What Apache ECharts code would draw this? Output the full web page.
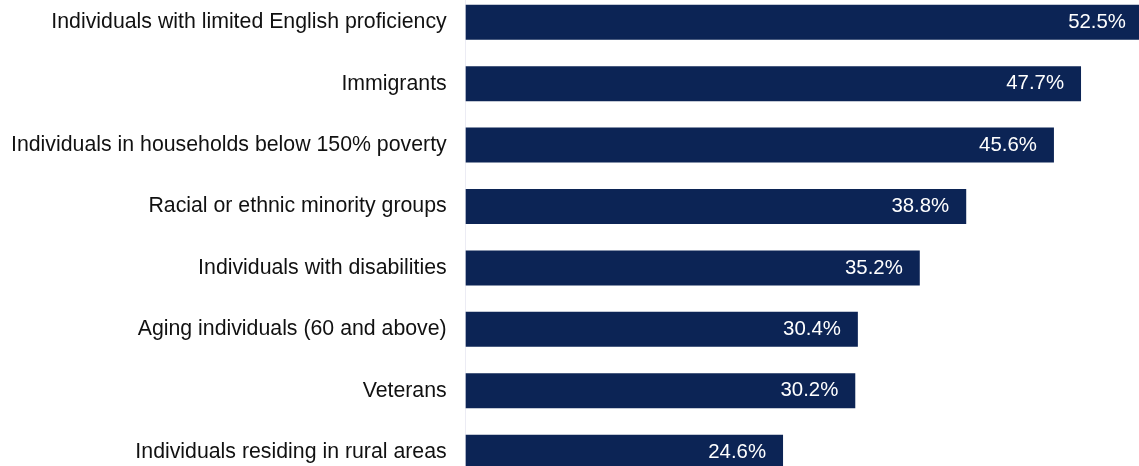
<!DOCTYPE html>
<html>
<head>
<meta charset="utf-8">
<script src="https://cdn.jsdelivr.net/npm/echarts@6/dist/echarts.min.js"></script>
<style>
html,body{margin:0;padding:0;background:#fff;}
#chart{width:1139px;height:466px;}
</style>
</head>
<body>
<div id="chart"></div>
<script>
var categories = [
  "Individuals with limited English proficiency",
  "Immigrants",
  "Individuals in households below 150% poverty",
  "Racial or ethnic minority groups",
  "Individuals with disabilities",
  "Aging individuals (60 and above)",
  "Veterans",
  "Individuals residing in rural areas"
];
var values = [52.5, 47.7, 45.6, 38.8, 35.2, 30.4, 30.2, 24.6];

var chart = echarts.init(document.getElementById('chart'), null, {renderer: 'canvas'});
var xMax = 55;
var pxPerUnit = 12.9;
var gridLeft = 465.7;
var gridWidth = xMax * pxPerUnit;
chart.setOption({
  animation: false,
  grid: {
    left: gridLeft,
    width: gridWidth,
    top: -8.5,
    height: 491.4,
    containLabel: false,
    outerBoundsMode: 'none'
  },
  xAxis: {
    type: 'value',
    min: 0,
    max: xMax,
    show: false
  },
  yAxis: {
    type: 'category',
    inverse: true,
    data: categories,
    axisLine: {show: true, lineStyle: {color: '#ececf4', width: 1}},
    axisTick: {show: false},
    axisLabel: {
      margin: 19,
      color: '#111111',
      fontFamily: 'Liberation Sans, Arial, sans-serif',
      fontSize: 21.3
    }
  },
  series: [{
    type: 'bar',
    data: values,
    barCategoryGap: '43%',
    clip: false,
    itemStyle: {color: '#0c2455'},
    label: {
      show: true,
      position: 'insideRight',
      distance: 17,
      color: '#ffffff',
      fontFamily: 'Liberation Sans, Arial, sans-serif',
      fontSize: 20.4,
      formatter: function (p) { return p.value.toFixed(1) + '%'; }
    }
  }]
});
</script>
</body>
</html>
